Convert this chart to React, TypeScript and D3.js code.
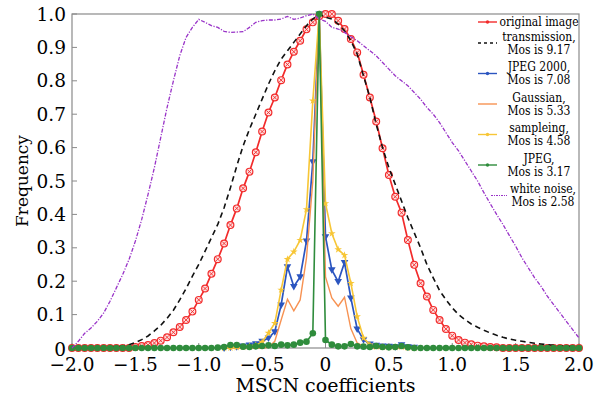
import React from 'react';
import * as d3 from 'd3';

// sample grid of the histograms (step 0.05)
const xGrid = d3.range(81).map(i => +(-2 + i * 0.05).toFixed(2));
const xCenter = d3.range(31).map(i => +(-0.8 + i * 0.05).toFixed(2));

const originalImage = [
  0, 0, 0, 0, 0, 0, 0, 0, 0, 0,
  0.003, 0.006, 0.009, 0.015, 0.022, 0.032, 0.047, 0.063, 0.084, 0.109,
  0.144, 0.178, 0.222, 0.266, 0.313, 0.368, 0.418, 0.478, 0.528, 0.586,
  0.648, 0.705, 0.75, 0.802, 0.849, 0.887, 0.92, 0.954, 0.975, 0.993,
  1.0, 1.0, 0.98, 0.955, 0.925, 0.885, 0.818, 0.75, 0.678, 0.598,
  0.518, 0.453, 0.405, 0.323, 0.249, 0.194, 0.154, 0.114, 0.084, 0.057,
  0.037, 0.024, 0.016, 0.011, 0.007, 0.005, 0.003, 0.002, 0, 0,
  0, 0, 0, 0, 0, 0, 0, 0, 0, 0, 0,
];

const transmission = [
  0, 0, 0, 0, 0, 0, 0.001, 0.003, 0.006, 0.01,
  0.016, 0.025, 0.036, 0.051, 0.068, 0.089, 0.113, 0.144, 0.178, 0.215,
  0.25, 0.29, 0.33, 0.37, 0.42, 0.48, 0.545, 0.605, 0.655, 0.7,
  0.745, 0.79, 0.83, 0.865, 0.89, 0.915, 0.94, 0.965, 0.985, 1.0,
  0.99, 0.985, 0.97, 0.95, 0.92, 0.88, 0.815, 0.75, 0.67, 0.6,
  0.54, 0.49, 0.44, 0.39, 0.345, 0.3, 0.25, 0.21, 0.172, 0.145,
  0.12, 0.1, 0.085, 0.072, 0.062, 0.053, 0.045, 0.038, 0.032, 0.027,
  0.023, 0.02, 0.017, 0.014, 0.012, 0.01, 0.008, 0.006, 0.005, 0.004, 0.003,
];

const whiteNoise = [
  0, 0.02, 0.044, 0.06, 0.08, 0.105, 0.14, 0.18, 0.22, 0.265,
  0.32, 0.385, 0.46, 0.54, 0.63, 0.72, 0.8, 0.875, 0.93, 0.96,
  0.984, 0.975, 0.965, 0.96, 0.948, 0.945, 0.946, 0.947, 0.96, 0.975,
  0.98, 0.982, 0.982, 0.985, 0.993, 0.984, 0.988, 0.995, 1.0, 0.985,
  0.978, 0.96, 0.955, 0.945, 0.932, 0.92, 0.905, 0.89, 0.875, 0.855,
  0.835, 0.815, 0.8, 0.785, 0.765, 0.745, 0.72, 0.7, 0.675, 0.645,
  0.615, 0.59, 0.56, 0.53, 0.5, 0.465, 0.432, 0.4, 0.37, 0.337,
  0.305, 0.27, 0.24, 0.21, 0.185, 0.155, 0.13, 0.105, 0.08, 0.055, 0.03,
];

const jpeg = [
  0, 0, 0, 0, 0, 0, 0, 0, 0, 0,
  0, 0, 0, 0, 0, 0, 0, 0, 0, 0,
  0, 0, 0, 0.001, 0.003, 0.009, 0.009, 0.004, 0.003, 0.005,
  0.006, 0.008, 0.006, 0.01, 0.008, 0.01, 0.016, 0.019, 0.044, 1.0,
  0.024, 0.01, 0.005, 0.005, 0.012, 0.005, 0.004, 0.003, 0.006, 0.003,
  0.002, 0.003, 0.006, 0.002, 0, 0, 0, 0, 0, 0,
  0, 0, 0, 0, 0, 0, 0, 0, 0, 0,
  0, 0, 0, 0, 0, 0, 0, 0, 0, 0, 0,
];

// these three only cover -0.8 .. 0.7
const jpeg2000 = [
  0, 0.002, 0.004, 0.006, 0.009, 0.013, 0.02, 0.03, 0.049, 0.129,
  0.243, 0.184, 0.213, 0.32, 0.558, 1.0, 0.333, 0.234, 0.199, 0.256,
  0.15, 0.057, 0.025, 0.012, 0.008, 0.006, 0.005, 0.004, 0.01, 0.004, 0.002,
];
const gaussian = [
  0, 0, 0, 0, 0, 0, 0, 0.002, 0.02, 0.084,
  0.146, 0.111, 0.144, 0.27, 0.5, 1.0, 0.213, 0.15, 0.125, 0.152,
  0.058, 0.015, 0.005, 0, 0, 0, 0, 0, 0, 0, 0,
];
const sampleing = [
  0, 0.001, 0.002, 0.003, 0.005, 0.008, 0.018, 0.045, 0.074, 0.174,
  0.266, 0.288, 0.323, 0.415, 0.74, 1.0, 0.433, 0.343, 0.295, 0.278,
  0.194, 0.094, 0.03, 0.01, 0.004, 0.003, 0.002, 0.002, 0.003, 0.001, 0,
];

const xTicks = [-2, -1.5, -1, -0.5, 0, 0.5, 1, 1.5, 2];
const xTickLabels = ['−2.0', '−1.5', '−1.0', '−0.5', '0', '0.5', '1.0', '1.5', '2.0'];
const yTicks = [0, 0.1, 0.2, 0.3, 0.4, 0.5, 0.6, 0.7, 0.8, 0.9, 1.0];
const yTickLabels = ['0', '0.1', '0.2', '0.3', '0.4', '0.5', '0.6', '0.7', '0.8', '0.9', '1.0'];

const legendLabels = [
  ['original image'],
  ['transmission,', 'Mos is 9.17'],
  ['JPEG 2000,', 'Mos is 7.08'],
  ['Gaussian,', 'Mos is 5.33'],
  ['sampleing,', 'Mos is 4.58'],
  ['JPEG,', 'Mos is 3.17'],
  ['white noise,', 'Mos is 2.58'],
];

const RED = '#f22b2b';
const BLUE = '#2b55c0';
const ORANGE = '#f79252';
const YELLOW = '#f7c636';
const GREEN = '#2f8c3c';
const PURPLE = '#9933c8';

const W = 595;
const H = 399;
const margin = { top: 14, right: 16, bottom: 51, left: 72 };
const FONT = "'DejaVu Serif', serif";
const LEGEND_FONT = "'DejaVu Serif Condensed', 'Liberation Serif', serif";

const x = d3.scaleLinear().domain([-2, 2]).range([margin.left, W - margin.right]);
const y = d3.scaleLinear().domain([0, 1]).range([H - margin.bottom, margin.top]);

const lineOn = (xs: number[]) =>
  d3.line<number>().x((_, i) => x(xs[i])).y(d => y(d));

const triDown = 'M-3.8,-2.5L3.8,-2.5L0,4Z';
const star = d3.symbol(d3.symbolStar, 18)();

function RedMark({ cx, cy }: { cx: number; cy: number }) {
  return (
    <g transform={`translate(${cx},${cy})`}>
      <circle r={3.4} fill="#fde0e0" stroke={RED} strokeWidth={1.2} />
      <path d="M-2,-2L2,2M-2,2L2,-2" stroke={RED} strokeWidth={0.9} />
    </g>
  );
}

export default function App() {
  const plotR = W - margin.right;
  const plotB = H - margin.bottom;

  const legendY = (k: number) => (k === 0 ? 22 : 43 + (k - 1) * 30.5);
  const hx0 = 478, hx1 = 497, tx = 539;

  return (
    <svg width={W} height={H} style={{ position: 'absolute', left: 0, top: 0, background: '#fff' }}
      fontFamily={FONT}>
      <rect width={W} height={H} fill="#fff" />

      {/* frame */}
      <rect x={margin.left} y={margin.top} width={plotR - margin.left} height={plotB - margin.top}
        fill="none" stroke="#8a8a8a" strokeWidth={1.2} />

      {yTicks.map((t, i) => (
        <g key={'y' + i}>
          <line x1={margin.left} x2={margin.left + 5} y1={y(t)} y2={y(t)} stroke="#8a8a8a" />
          <text x={margin.left - 6} y={y(t) + (t === 0 ? 1 : 0)} dy="0.36em" textAnchor="end" fontSize={18.5}>{yTickLabels[i]}</text>
        </g>
      ))}
      {xTicks.map((t, i) => (
        <g key={'x' + i}>
          <line x1={x(t)} x2={x(t)} y1={plotB} y2={plotB - 5} stroke="#8a8a8a" />
          <text x={x(t)} y={plotB + 23} textAnchor="middle" fontSize={18.5}>{xTickLabels[i]}</text>
        </g>
      ))}

      <text x={(margin.left + plotR) / 2} y={392} textAnchor="middle" fontSize={19}>MSCN coefficients</text>
      <text transform={`translate(28,${(margin.top + plotB) / 2}) rotate(-90)`} textAnchor="middle" fontSize={17}>Frequency</text>

      {/* original image */}
      <path d={lineOn(xGrid)(originalImage) || ''} fill="none" stroke={RED} strokeWidth={1.7} />
      {originalImage.map((v, i) => <RedMark key={'r' + i} cx={x(xGrid[i])} cy={y(v)} />)}

      {/* transmission */}
      <path d={lineOn(xGrid)(transmission) || ''} fill="none" stroke="#111" strokeWidth={1.6} strokeDasharray="5.5,4" />

      {/* JPEG 2000 */}
      <path d={lineOn(xCenter)(jpeg2000) || ''} fill="none" stroke={BLUE} strokeWidth={1.7} />
      {jpeg2000.map((v, i) => (
        <path key={'b' + i} d={triDown} transform={`translate(${x(xCenter[i])},${y(v)})`} fill={BLUE} />
      ))}

      {/* Gaussian */}
      <path d={lineOn(xCenter)(gaussian) || ''} fill="none" stroke={ORANGE} strokeWidth={1.4} />

      {/* sampleing */}
      <path d={lineOn(xCenter)(sampleing) || ''} fill="none" stroke={YELLOW} strokeWidth={1.6} />
      {sampleing.map((v, i) => (
        <path key={'s' + i} d={star || ''} transform={`translate(${x(xCenter[i])},${y(v)})`} fill={YELLOW} />
      ))}

      {/* JPEG */}
      <path d={lineOn(xGrid)(jpeg) || ''} fill="none" stroke={GREEN} strokeWidth={1.6} />
      {jpeg.map((v, i) => <circle key={'g' + i} cx={x(xGrid[i])} cy={y(v)} r={3.3} fill={GREEN} />)}

      {/* white noise */}
      <path d={lineOn(xGrid)(whiteNoise) || ''} fill="none" stroke={PURPLE} strokeWidth={1.3} strokeDasharray="4,1.5,1.2,1.5" />

      {/* legend */}
      {legendLabels.map((lines, k) => {
        const ly = legendY(k);
        const a = k === 6 ? 491 : hx0;
        const b = k === 6 ? 507 : hx1;
        const mid = (a + b) / 2;
        const colors = [RED, '#111', BLUE, ORANGE, YELLOW, GREEN, PURPLE];
        const c = colors[k];
        return (
          <g key={'l' + k}>
            <line x1={a} x2={b} y1={ly} y2={ly} stroke={c} strokeWidth={k === 6 ? 1.1 : 1.4}
              strokeDasharray={k === 1 ? '3,3' : k === 6 ? '2,1,1,1' : undefined} />
            {(k === 0 || k === 2 || k === 4 || k === 5) && <circle cx={mid} cy={ly} r={1.7} fill={c} />}
            {lines.map((s, j) => (
              <text key={j} x={k === 6 ? 543 : tx}
                y={lines.length === 1 ? ly : ly + (j === 0 ? -6.5 : 6.5)}
                dy="0.36em" textAnchor="middle" fontSize={12} fontFamily={LEGEND_FONT}>{s}</text>
            ))}
          </g>
        );
      })}
    </svg>
  );
}
